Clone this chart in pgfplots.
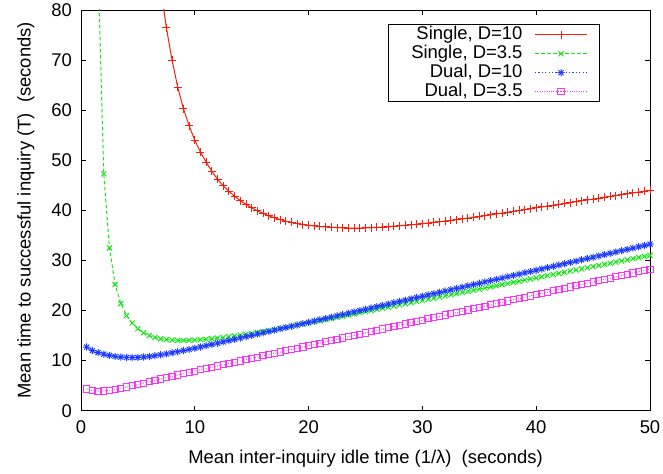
\documentclass[border=0pt]{standalone}
\usepackage{fontspec}
\setmainfont{Liberation Sans}
\usepackage{pgfplots}
\pgfplotsset{compat=1.18}
\definecolor{cR}{RGB}{250,30,10}
\definecolor{cG}{RGB}{20,230,20}
\definecolor{cB}{RGB}{30,60,255}
\definecolor{cM}{RGB}{250,50,250}
\pgfdeclareplotmark{starx}{%
 \pgfpathmoveto{\pgfqpoint{-\pgfplotmarksize}{0pt}}\pgfpathlineto{\pgfqpoint{\pgfplotmarksize}{0pt}}%
 \pgfpathmoveto{\pgfqpoint{0pt}{-\pgfplotmarksize}}\pgfpathlineto{\pgfqpoint{0pt}{\pgfplotmarksize}}%
 \pgfpathmoveto{\pgfqpoint{-0.707\pgfplotmarksize}{-0.707\pgfplotmarksize}}\pgfpathlineto{\pgfqpoint{0.707\pgfplotmarksize}{0.707\pgfplotmarksize}}%
 \pgfpathmoveto{\pgfqpoint{-0.707\pgfplotmarksize}{0.707\pgfplotmarksize}}\pgfpathlineto{\pgfqpoint{0.707\pgfplotmarksize}{-0.707\pgfplotmarksize}}%
 \pgfusepathqstroke}
\newcommand{\ff}{\fontsize{18.5}{22}\selectfont}
\begin{document}
\begin{tikzpicture}
\begin{axis}[
 name=ax,
 scale only axis, width=569bp, height=400.7bp,
 xmin=0, xmax=50, ymin=0, ymax=80,
 xtick={0,10,...,50}, ytick={0,10,...,80},
 tick align=inside, major tick length=5bp,
 axis line style={line width=0.9bp},
 tick style={line width=0.8bp, black},
 /pgf/number format/assume math mode=true,
 ticklabel style={font=\ff},
 xticklabel style={yshift=-6.4bp},
 yticklabel style={xshift=-5.5bp},
 label style={font=\ff},
 xlabel={Mean inter-inquiry idle time (1/λ)\ \ (seconds)},
 ylabel={Mean time to successful inquiry (T)\ \ (seconds)},
 xlabel style={at={(axis description cs:0.5,-0.1205)}, anchor=center},
 ylabel style={at={(axis description cs:-0.0967,0.5)}, anchor=center},
 legend style={at={(axis description cs:0.9121,0.9643)}, anchor=north east,
   draw=black, line width=0.9bp, fill=white, inner xsep=12bp, inner ysep=0.5bp,
   column sep=12bp, font=\ff,
   nodes={inner xsep=0bp, inner ysep=1bp, text height=13bp, text depth=4bp}},
 legend cell align=right, legend plot pos=right,
 legend image code/.code={\draw[#1, mark repeat=2, mark phase=2] plot coordinates {(0bp,0bp) (26bp,0bp) (52bp,0bp)};},
]
\addplot[color=cR, line width=1bp, solid, mark=+, mark size=4bp, mark options={solid}] table {
x y
6.5 95
7.0 84.5
7.5 76.5
8.0 70.0
8.5 64.6
9.0 60.3
9.5 56.9
10.0 54.0
10.5 51.6
11.0 49.6
11.5 47.8
12.0 46.2
12.5 44.9
13.0 43.8
13.5 42.8
14.0 41.95
14.5 41.2
15.0 40.5
15.5 39.9
16.0 39.4
16.5 38.9
17.0 38.5
17.5 38.15
18.0 37.85
18.5 37.6
19.0 37.35
19.5 37.15
20.0 37.0
20.5 36.88
21.0 36.78
21.5 36.7
22.0 36.63
22.5 36.56
23.0 36.51
23.5 36.47
24.0 36.45
24.5 36.46
25.0 36.49
25.5 36.53
26.0 36.59
26.5 36.66
27.0 36.74
27.5 36.82
28.0 36.91
28.5 37.01
29.0 37.12
29.5 37.23
30.0 37.35
30.5 37.47
31.0 37.60
31.5 37.73
32.0 37.87
32.5 38.01
33.0 38.16
33.5 38.31
34.0 38.46
34.5 38.62
35.0 38.78
35.5 38.94
36.0 39.10
36.5 39.27
37.0 39.45
37.5 39.62
38.0 39.80
38.5 39.97
39.0 40.15
39.5 40.32
40.0 40.50
40.5 40.67
41.0 40.85
41.5 41.02
42.0 41.20
42.5 41.37
43.0 41.55
43.5 41.72
44.0 41.90
44.5 42.07
45.0 42.25
45.5 42.42
46.0 42.60
46.5 42.77
47.0 42.95
47.5 43.12
48.0 43.30
48.5 43.47
49.0 43.65
49.5 43.82
50.0 44.00
};
\addlegendentry{Single, D=10}
\addplot[color=cG, line width=1bp, dash pattern=on 3.5bp off 2.5bp, mark=x, mark size=3.6bp, mark options={solid}] table {
x y
1.5 89
2.0 47.3
2.5 32.5
3.0 25.2
3.5 21.4
4.0 19.0
4.5 17.5
5.0 16.35
5.5 15.55
6.0 15.0
6.5 14.62
7.0 14.37
7.5 14.2
8.0 14.1
8.5 14.05
9.0 14.03
9.5 14.05
10.0 14.1
10.5 14.17
11.0 14.26
11.5 14.37
12.0 14.49
12.5 14.62
13.0 14.76
13.5 14.91
14.0 15.07
14.5 15.24
15.0 15.42
15.5 15.61
16.0 15.8
16.5 16.0
17.0 16.2
17.5 16.41
18.0 16.62
18.5 16.85
19.0 17.07
19.5 17.30
20.0 17.52
20.5 17.75
21.0 17.97
21.5 18.20
22.0 18.42
22.5 18.65
23.0 18.87
23.5 19.10
24.0 19.32
24.5 19.55
25.0 19.77
25.5 20.00
26.0 20.22
26.5 20.45
27.0 20.67
27.5 20.90
28.0 21.12
28.5 21.35
29.0 21.57
29.5 21.80
30.0 22.02
30.5 22.25
31.0 22.47
31.5 22.70
32.0 22.92
32.5 23.15
33.0 23.37
33.5 23.60
34.0 23.82
34.5 24.05
35.0 24.27
35.5 24.50
36.0 24.72
36.5 24.95
37.0 25.17
37.5 25.40
38.0 25.62
38.5 25.85
39.0 26.07
39.5 26.30
40.0 26.52
40.5 26.75
41.0 26.97
41.5 27.20
42.0 27.42
42.5 27.65
43.0 27.87
43.5 28.10
44.0 28.32
44.5 28.55
45.0 28.77
45.5 29.00
46.0 29.22
46.5 29.45
47.0 29.67
47.5 29.90
48.0 30.12
48.5 30.35
49.0 30.57
49.5 30.80
50.0 31.02
};
\addlegendentry{\hspace*{11bp}Single, D=3.5}
\addplot[color=cB, line width=1bp, dash pattern=on 1.2bp off 2.2bp, mark=starx, mark size=3.6bp, mark options={solid}] table {
x y
0.5 12.7
1.0 12.0
1.5 11.6
2.0 11.28
2.5 11.03
3.0 10.84
3.5 10.7
4.0 10.62
4.5 10.6
5.0 10.63
5.5 10.71
6.0 10.83
6.5 10.98
7.0 11.15
7.5 11.34
8.0 11.55
8.5 11.77
9.0 12.0
9.5 12.24
10.0 12.48
10.5 12.73
11.0 12.98
11.5 13.23
12.0 13.48
12.5 13.74
13.0 14.0
13.5 14.26
14.0 14.52
14.5 14.78
15.0 15.04
15.5 15.30
16.0 15.56
16.5 15.82
17.0 16.08
17.5 16.34
18.0 16.60
18.5 16.86
19.0 17.12
19.5 17.38
20.0 17.64
20.5 17.90
21.0 18.16
21.5 18.42
22.0 18.68
22.5 18.94
23.0 19.20
23.5 19.46
24.0 19.72
24.5 19.98
25.0 20.24
25.5 20.50
26.0 20.76
26.5 21.02
27.0 21.28
27.5 21.54
28.0 21.80
28.5 22.06
29.0 22.32
29.5 22.58
30.0 22.84
30.5 23.10
31.0 23.36
31.5 23.62
32.0 23.88
32.5 24.14
33.0 24.40
33.5 24.66
34.0 24.92
34.5 25.18
35.0 25.44
35.5 25.70
36.0 25.96
36.5 26.22
37.0 26.48
37.5 26.74
38.0 27.00
38.5 27.26
39.0 27.52
39.5 27.78
40.0 28.04
40.5 28.30
41.0 28.56
41.5 28.82
42.0 29.08
42.5 29.34
43.0 29.60
43.5 29.86
44.0 30.12
44.5 30.38
45.0 30.64
45.5 30.90
46.0 31.16
46.5 31.42
47.0 31.68
47.5 31.94
48.0 32.20
48.5 32.46
49.0 32.72
49.5 32.98
50.0 33.24
};
\addlegendentry{Dual, D=10}
\addplot[color=cM, line width=1bp, dash pattern=on 0.8bp off 1.5bp, mark=square, mark size=3.1bp, mark options={solid}] table {
x y
0.5 4.35
1.0 4.0
1.5 3.88
2.0 3.92
2.5 4.05
3.0 4.25
3.5 4.48
4.0 4.72
4.5 4.97
5.0 5.23
5.5 5.5
6.0 5.77
6.5 6.04
7.0 6.31
7.5 6.58
8.0 6.85
8.5 7.12
9.0 7.39
9.5 7.64
10.0 7.90
10.5 8.15
11.0 8.40
11.5 8.66
12.0 8.91
12.5 9.17
13.0 9.42
13.5 9.68
14.0 9.93
14.5 10.19
15.0 10.44
15.5 10.69
16.0 10.95
16.5 11.20
17.0 11.46
17.5 11.71
18.0 11.97
18.5 12.22
19.0 12.48
19.5 12.73
20.0 12.98
20.5 13.24
21.0 13.49
21.5 13.75
22.0 14.00
22.5 14.26
23.0 14.51
23.5 14.77
24.0 15.02
24.5 15.27
25.0 15.53
25.5 15.78
26.0 16.04
26.5 16.29
27.0 16.55
27.5 16.80
28.0 17.06
28.5 17.31
29.0 17.56
29.5 17.82
30.0 18.07
30.5 18.33
31.0 18.58
31.5 18.84
32.0 19.09
32.5 19.35
33.0 19.60
33.5 19.85
34.0 20.11
34.5 20.36
35.0 20.62
35.5 20.87
36.0 21.13
36.5 21.38
37.0 21.64
37.5 21.89
38.0 22.14
38.5 22.40
39.0 22.65
39.5 22.91
40.0 23.16
40.5 23.42
41.0 23.67
41.5 23.93
42.0 24.18
42.5 24.43
43.0 24.69
43.5 24.94
44.0 25.20
44.5 25.45
45.0 25.71
45.5 25.96
46.0 26.22
46.5 26.47
47.0 26.72
47.5 26.98
48.0 27.23
48.5 27.49
49.0 27.74
49.5 28.00
50.0 28.25
};
\addlegendentry{Dual, D=3.5}
\end{axis}
\pgfresetboundingbox
\useasboundingbox ([xshift=-81bp,yshift=-63.3bp]ax.south west) rectangle ([xshift=13bp,yshift=10bp]ax.north east);
\end{tikzpicture}
\end{document}
